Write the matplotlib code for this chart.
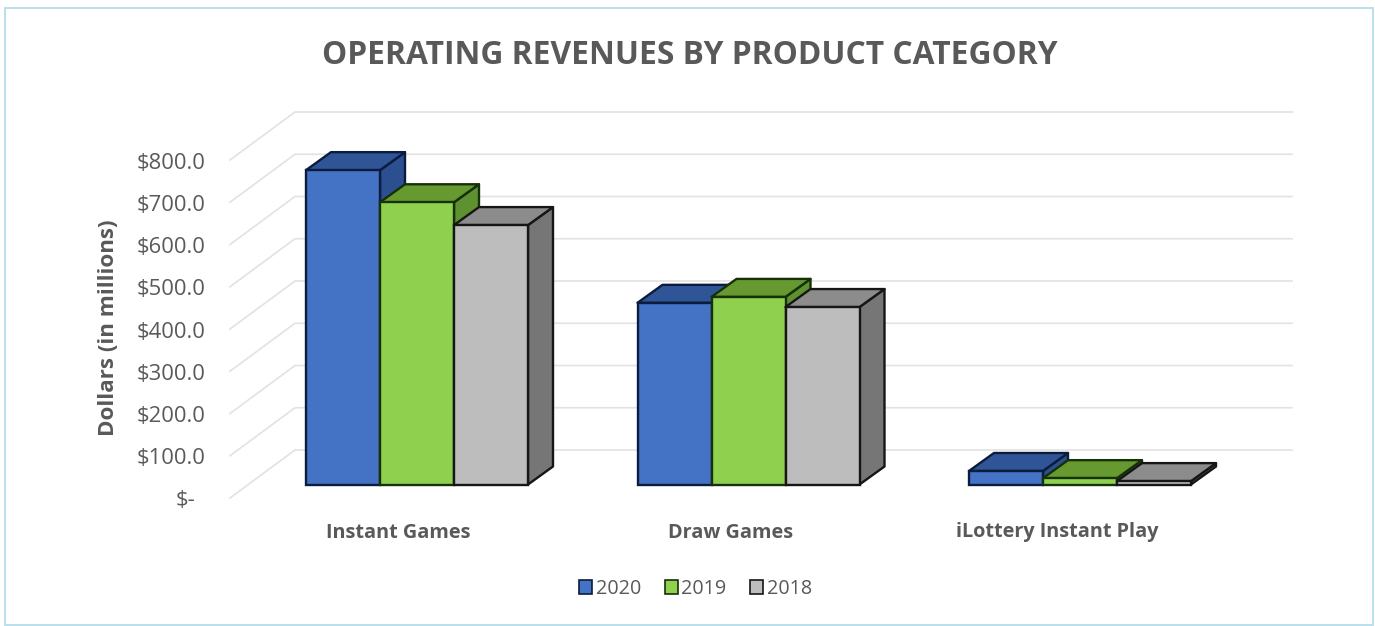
import matplotlib
matplotlib.use("Agg")
import matplotlib.pyplot as plt
from matplotlib.patches import Patch, Polygon, Rectangle

categories = ["Instant Games", "Draw Games", "iLottery Instant Play"]
years = ["2020", "2019", "2018"]
rev_2020 = [744, 430, 32]
rev_2019 = [668, 444, 15]
rev_2018 = [614, 420, 8]
y_ticks = [0, 100, 200, 300, 400, 500, 600, 700, 800]
y_labels = ["$-", "$100.0", "$200.0", "$300.0", "$400.0", "$500.0", "$600.0", "$700.0", "$800.0"]

series = [rev_2020, rev_2019, rev_2018]
front_cols = ["#4472C4", "#8FD14F", "#BDBDBD"]
top_cols = ["#2F5597", "#669A30", "#8C8C8C"]
side_cols = ["#2C4F8F", "#5E9130", "#767676"]
edge_cols = ["#0B1C3E", "#16300A", "#161616"]
text_col = "#595959"

W, H = 1375, 626
PX_X = 331.5      # pixels per category
PX_Y = 0.4225     # pixels per dollar (million)
bar_w = 74 / PX_X
depth_x = 25 / PX_X
depth_y = 18 / PX_Y

plt.rcParams["font.family"] = ["Open Sans", "DejaVu Sans"]

fig = plt.figure(figsize=(W / 100, H / 100), dpi=100)
ax = fig.add_axes([0, 0, 1, 1])
# axes fill the figure, scaled so the bars' base sits on y = 0
ax.set_xlim(-417 / PX_X, (W - 417) / PX_X)
ax.set_ylim(-(H - 484.5) / PX_Y, 484.5 / PX_Y)
ax.axis("off")

ax.add_patch(Rectangle((5 / W, 1.5 / H), 1368 / W, 616.5 / H, transform=ax.transAxes,
                       fill=False, ec="#B5DCEB", lw=1.3))

# back wall and floor lines
floor_front_x, floor_back_x, wall_right = -187 / PX_X, -122 / PX_X, 875 / PX_X
floor_front_y, floor_back_y = -13.5 / PX_Y, 34.5 / PX_Y
for t in y_ticks:
    ax.plot([floor_front_x, floor_back_x, wall_right],
            [t + floor_front_y, t + floor_back_y, t + floor_back_y],
            color="#E2E2E2", lw=1.2, zorder=1)

label_drop = 3 / PX_Y
for t, lab in zip(y_ticks, y_labels):
    xpos = -212 / PX_X if t > 0 else -222 / PX_X
    ax.text(xpos, t + floor_front_y - label_drop, lab, ha="right", va="center",
            fontsize=15.8, color=text_col)

# bars, left to right so each front covers the previous side
z = 2
for i in range(len(categories)):
    for j, vals in enumerate(series):
        x0 = i + (j - 1.5) * bar_w
        x1 = x0 + bar_w
        v = vals[i]
        kw = dict(ec=edge_cols[j], lw=1.7, joinstyle="round", zorder=z)
        ax.add_patch(Polygon([(x1, 0), (x1 + depth_x, depth_y), (x1 + depth_x, v + depth_y), (x1, v)],
                             fc=side_cols[j], **kw))
        ax.add_patch(Polygon([(x0, v), (x0 + depth_x, v + depth_y), (x1 + depth_x, v + depth_y), (x1, v)],
                             fc=top_cols[j], **kw))
        ax.bar(x0, v, width=bar_w, align="edge", color=front_cols[j],
               edgecolor=edge_cols[j], linewidth=1.7, zorder=z)
        z += 1

cat_shift = [-19, -18, -23]
for i, c in enumerate(categories):
    ax.text(i + cat_shift[i] / PX_X, -48 / PX_Y, c, ha="center", va="center",
            fontsize=14.3, fontweight="bold", color=text_col)

ax.text(690 / W, 1 - 55 / H, "OPERATING REVENUES BY PRODUCT CATEGORY", transform=ax.transAxes,
        ha="center", va="center", fontsize=22.9, fontweight="bold", color=text_col)
ax.text(108 / W, 1 - 328 / H, "Dollars (in millions)", transform=ax.transAxes, rotation=90,
        ha="center", va="center", fontsize=16.1, fontweight="bold", color=text_col)

handles = [Patch(fc=front_cols[j], ec=edge_cols[j], lw=1.2) for j in range(3)]
ax.legend(handles, years, loc="center", bbox_to_anchor=(695.5 / W, 1 - 589 / H), ncol=3,
          frameon=False, fontsize=14.2, labelcolor=text_col, handlelength=0.66, handleheight=0.66,
          handletextpad=0.2, columnspacing=1.18, borderpad=0)

fig.savefig("out.png", dpi=100, facecolor="white")
